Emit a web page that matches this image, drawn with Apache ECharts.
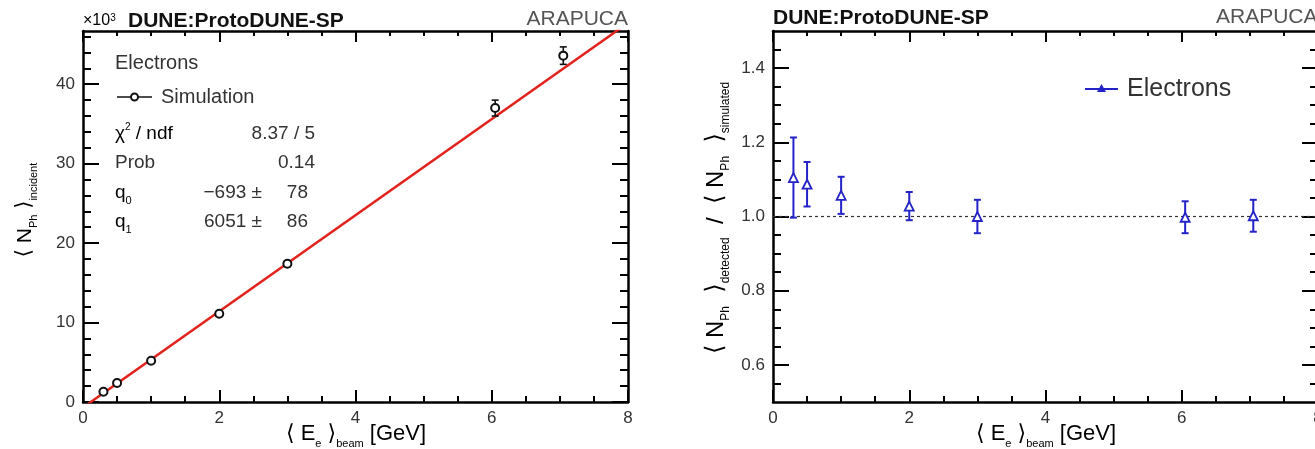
<!DOCTYPE html>
<html>
<head>
<meta charset="utf-8">
<script src="https://cdn.jsdelivr.net/npm/echarts@6/dist/echarts.min.js"></script>
<style>
html, body { margin: 0; padding: 0; background: #fff; }
#chart { width: 1315px; height: 449px; }
</style>
</head>
<body>
<div id="chart"></div>
<script>
// beam energies [GeV]
var energy = [0.3, 0.5, 1.0, 2.0, 3.0, 6.05, 7.05];
// left panel: incident photons (x10^3)
var nphIncident = [1.3, 2.4, 5.2, 11.1, 17.4, 37.0, 43.6];
var nphIncidentErr = [0.2, 0.2, 0.25, 0.3, 0.35, 1.0, 1.1];
// right panel: detected / simulated
var ratio = [1.105, 1.087, 1.057, 1.028, 1.0, 0.998, 1.002];
var ratioErr = [0.108, 0.06, 0.05, 0.038, 0.045, 0.043, 0.043];
// linear fit q0 + q1*E  (photons)
var fitQ0 = -693, fitQ1 = 6051;
var fitRange = [0, 8];

// tick labels / tick positions
var xMajor = [0, 2, 4, 6, 8];
var xMinor = [0.5, 1, 1.5, 2.5, 3, 3.5, 4.5, 5, 5.5, 6.5, 7, 7.5];
var yMajorL = [0, 10, 20, 30, 40];
var yMinorL = [2, 4, 6, 8, 12, 14, 16, 18, 22, 24, 26, 28, 32, 34, 36, 38, 42, 44, 46];
var yMajorR = [0.6, 0.8, 1.0, 1.2, 1.4];
var yMinorR = [0.55, 0.65, 0.7, 0.75, 0.85, 0.9, 0.95, 1.05, 1.1, 1.15, 1.25, 1.3, 1.35, 1.45];

var FONT = '"Liberation Sans", Arial, Helvetica, sans-serif';
var TXT = '#333';
var BLUE = '#2323c8';

var chart = echarts.init(document.getElementById('chart'), null, { renderer: 'canvas' });

function axis(grid, pos, min, max, ticks, len, opts) {
  var a = {
    type: 'value', gridIndex: grid, position: pos, min: min, max: max,
    splitLine: { show: false },
    axisLine: { show: !!opts.line, onZero: false, lineStyle: { color: '#000', width: 2.5 } },
    axisTick: { show: true, inside: true, length: len, customValues: ticks,
      lineStyle: { color: '#000', width: 2 } },
    axisLabel: { show: false }
  };
  if (opts.labels) {
    a.axisLabel = {
      show: true, customValues: ticks, color: TXT, fontSize: 17, fontFamily: FONT,
      margin: 8, formatter: opts.fmt
    };
  }
  return a;
}

function errBars(color, width, cap) {
  return function (params, api) {
    var x = api.value(0), y = api.value(1), e = api.value(2);
    var t = api.coord([x, y + e]), b = api.coord([x, y - e]);
    var st = { stroke: color, lineWidth: width };
    return {
      type: 'group',
      children: [
        { type: 'line', shape: { x1: t[0], y1: t[1], x2: b[0], y2: b[1] }, style: st },
        { type: 'line', shape: { x1: t[0] - cap, y1: t[1], x2: t[0] + cap, y2: t[1] }, style: st },
        { type: 'line', shape: { x1: b[0] - cap, y1: b[1], x2: b[0] + cap, y2: b[1] }, style: st }
      ]
    };
  };
}

var leftPts = energy.map(function (x, i) { return [x, nphIncident[i], nphIncidentErr[i]]; });
var rightPts = energy.map(function (x, i) { return [x, ratio[i], ratioErr[i]]; });
var fitLine = fitRange.map(function (x) { return [x, (fitQ0 + fitQ1 * x) / 1000]; });

var one = function (v) { return v.toFixed(1); };

function titleRich(main, subSize) {
  return {
    a: { fontSize: main, lineHeight: main + 8, fontFamily: 'DejaVu Sans', color: TXT },
    m: { fontSize: main, lineHeight: main + 8, fontFamily: FONT, color: TXT },
    s: { fontSize: subSize, lineHeight: subSize, verticalAlign: 'bottom', fontFamily: FONT, color: TXT }
  };
}
var sub = { fontSize: 11, verticalAlign: 'bottom', lineHeight: 11, fontFamily: FONT, color: TXT };

function txt(x, y, text, style) {
  return { type: 'text', x: x, y: y, silent: true,
    style: Object.assign({ text: text, fill: TXT, font: '20px ' + FONT, textVerticalAlign: 'middle' }, style || {}) };
}

var option = {
  animation: false,
  backgroundColor: '#fff',
  grid: [
    { left: 83, top: 31, width: 545, height: 371, containLabel: false, outerBoundsMode: 'none' },
    { left: 773, top: 31, width: 545, height: 371, containLabel: false, outerBoundsMode: 'none' }
  ],
  xAxis: [
    axis(0, 'bottom', 0, 8, xMajor, 12, { line: true, labels: true }),
    axis(0, 'bottom', 0, 8, xMinor, 6, {}),
    axis(0, 'top', 0, 8, xMajor, 11, { line: true }),
    axis(0, 'top', 0, 8, xMinor, 5, {}),
    axis(1, 'bottom', 0, 8, xMajor, 12, { line: true, labels: true }),
    axis(1, 'bottom', 0, 8, xMinor, 6, {}),
    axis(1, 'top', 0, 8, xMajor, 11, { line: true }),
    axis(1, 'top', 0, 8, xMinor, 5, {})
  ],
  yAxis: [
    axis(0, 'left', 0, 46.7, yMajorL, 16, { line: true, labels: true }),
    axis(0, 'left', 0, 46.7, yMinorL, 8, {}),
    axis(0, 'right', 0, 46.7, yMajorL, 16, { line: true }),
    axis(0, 'right', 0, 46.7, yMinorL, 8, {}),
    axis(1, 'left', 0.5, 1.5, yMajorR, 16, { line: true, labels: true, fmt: one }),
    axis(1, 'left', 0.5, 1.5, yMinorR, 8, {}),
    axis(1, 'right', 0.5, 1.5, yMajorR, 16, { line: true }),
    axis(1, 'right', 0.5, 1.5, yMinorR, 8, {})
  ],
  series: [
    {
      name: 'fit', type: 'line', xAxisIndex: 0, yAxisIndex: 0, data: fitLine,
      showSymbol: false, clip: true, z: 3,
      lineStyle: { color: '#e2231d', width: 2.5 }
    },
    {
      name: 'errL', type: 'custom', xAxisIndex: 0, yAxisIndex: 0, data: leftPts, z: 4,
      renderItem: errBars('#111', 1.6, 3.5)
    },
    {
      name: 'Simulation', type: 'scatter', xAxisIndex: 0, yAxisIndex: 0, data: leftPts, z: 5,
      symbol: 'circle', symbolSize: 8,
      itemStyle: { color: '#fff', borderColor: '#111', borderWidth: 2, opacity: 1 }
    },
    {
      name: 'unity', type: 'line', xAxisIndex: 4, yAxisIndex: 4,
      data: [[fitRange[0], 1], [fitRange[1], 1]], showSymbol: false, z: 2,
      lineStyle: { color: '#333', width: 1.2, type: [3, 3] }
    },
    {
      name: 'errR', type: 'custom', xAxisIndex: 4, yAxisIndex: 4, data: rightPts, z: 4,
      renderItem: errBars(BLUE, 2, 3.5)
    },
    {
      name: 'Electrons', type: 'scatter', xAxisIndex: 4, yAxisIndex: 4, data: rightPts, z: 5,
      symbol: 'triangle', symbolSize: 9,
      itemStyle: { color: '#fff', borderColor: BLUE, borderWidth: 1.8, opacity: 1 }
    }
  ],
  graphic: [
    // ---- left panel texts
    { type: 'text', x: 83, y: 21, silent: true, style: {
      text: '{n|×10}{p|3}', textVerticalAlign: 'middle',
      rich: { n: { fontSize: 16, fontFamily: FONT, color: TXT, verticalAlign: 'bottom' },
              p: { fontSize: 10, fontFamily: FONT, color: TXT, verticalAlign: 'top' } } } },
    txt(128, 21, 'DUNE:ProtoDUNE-SP', { font: 'bold 21px ' + FONT, fill: '#111' }),
    txt(628, 19, 'ARAPUCA', { font: '21px ' + FONT, fill: '#555', textAlign: 'right' }),
    txt(115, 63, 'Electrons'),
    { type: 'line', silent: true, shape: { x1: 117, y1: 97, x2: 152, y2: 97 }, style: { stroke: '#111', lineWidth: 1.6 } },
    { type: 'circle', silent: true, shape: { cx: 134.5, cy: 97, r: 3.5 }, style: { fill: '#fff', stroke: '#111', lineWidth: 2 } },
    txt(161, 97, 'Simulation'),
    { type: 'text', x: 115, y: 134, silent: true, style: {
      text: '{m|χ}{p|2}{m| / ndf}', textVerticalAlign: 'middle',
      rich: { m: { fontSize: 19, fontFamily: FONT, color: TXT, lineHeight: 24 },
              p: { fontSize: 10, fontFamily: FONT, color: TXT, verticalAlign: 'top', lineHeight: 10 } } } },
    txt(315, 134, '8.37 / 5', { textAlign: 'right', font: '19px ' + FONT }),
    txt(115, 163, 'Prob', { font: '19px ' + FONT }),
    txt(315, 163, '0.14', { textAlign: 'right', font: '19px ' + FONT }),
    { type: 'text', x: 115, y: 193, silent: true, style: {
      text: '{m|q}{s|0}', textVerticalAlign: 'middle',
      rich: { m: { fontSize: 19, fontFamily: FONT, color: TXT, lineHeight: 26 }, s: sub } } },
    txt(262, 193, '−693 ±', { textAlign: 'right', font: '19px ' + FONT }),
    txt(308, 193, '78', { textAlign: 'right', font: '19px ' + FONT }),
    { type: 'text', x: 115, y: 222, silent: true, style: {
      text: '{m|q}{s|1}', textVerticalAlign: 'middle',
      rich: { m: { fontSize: 19, fontFamily: FONT, color: TXT, lineHeight: 26 }, s: sub } } },
    txt(262, 222, '6051 ±', { textAlign: 'right', font: '19px ' + FONT }),
    txt(308, 222, '86', { textAlign: 'right', font: '19px ' + FONT }),
    { type: 'text', x: 356, y: 434, silent: true, style: {
      text: '{a|⟨}{m| E}{s|e}{m| }{a|⟩}{s|beam}{m| [GeV]}', textAlign: 'center', textVerticalAlign: 'middle',
      rich: titleRich(22, 11) } },
    { type: 'text', x: 25, y: 210, rotation: Math.PI / 2, silent: true, style: {
      text: '{a|⟨}{m| N}{s|Ph}{m| }{a|⟩}{s|incident}', textAlign: 'center', textVerticalAlign: 'middle',
      rich: titleRich(21, 11) } },
    // ---- right panel texts
    txt(773, 18, 'DUNE:ProtoDUNE-SP', { font: 'bold 21px ' + FONT, fill: '#111' }),
    txt(1216, 17, 'ARAPUCA', { font: '21px ' + FONT, fill: '#555' }),
    { type: 'line', silent: true, shape: { x1: 1085, y1: 89, x2: 1118, y2: 89 }, style: { stroke: BLUE, lineWidth: 2 } },
    { type: 'polygon', silent: true, shape: { points: [[1101.5, 84], [1106, 92], [1097, 92]] }, style: { fill: BLUE } },
    txt(1127, 89, 'Electrons', { font: '25px ' + FONT }),
    { type: 'text', x: 1046, y: 434, silent: true, style: {
      text: '{a|⟨}{m| E}{s|e}{m| }{a|⟩}{s|beam}{m| [GeV]}', textAlign: 'center', textVerticalAlign: 'middle',
      rich: titleRich(22, 11) } },
    { type: 'text', x: 716, y: 218, rotation: Math.PI / 2, silent: true, style: {
      text: '{a|⟨}{m| N}{s|Ph}{m|  }{a|⟩}{s|detected}{m|  /  }{a|⟨}{m| N}{s|Ph}{m|  }{a|⟩}{s|simulated}',
      textAlign: 'center', textVerticalAlign: 'middle', rich: titleRich(24, 12) } }
  ]
};

chart.setOption(option);
</script>
</body>
</html>
